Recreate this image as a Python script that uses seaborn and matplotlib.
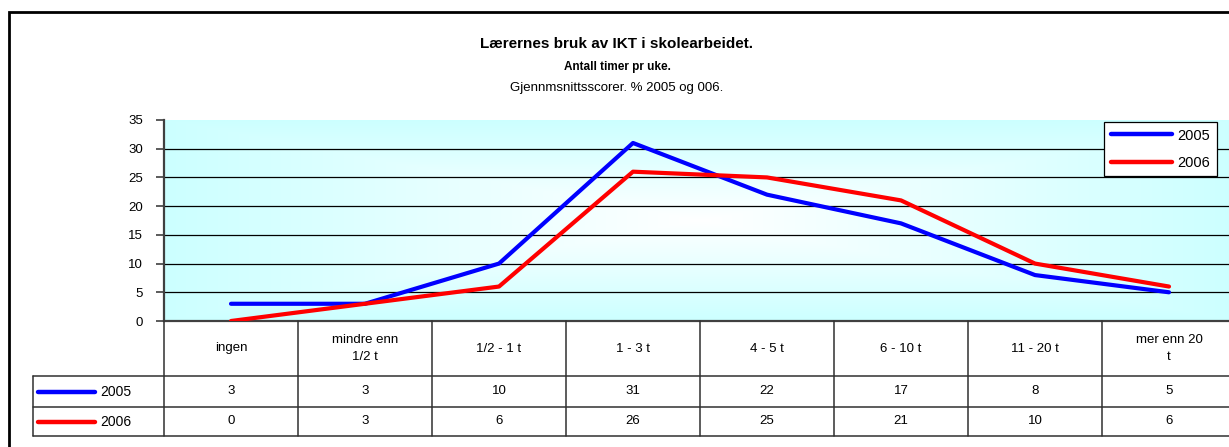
import numpy as np
import pandas as pd
import matplotlib
matplotlib.use("Agg")
import matplotlib.pyplot as plt
from matplotlib.patches import Rectangle
import seaborn as sns

# data
categories = ["ingen", "mindre enn\n1/2 t", "1/2 - 1 t", "1 - 3 t",
              "4 - 5 t", "6 - 10 t", "11 - 20 t", "mer enn 20\nt"]
years = ["2005", "2006"]
values_2005 = [3, 3, 10, 31, 22, 17, 8, 5]
values_2006 = [0, 3, 6, 26, 25, 21, 10, 6]
line_colors = ["#0000FF", "#FF0000"]
y_ticks = [0, 5, 10, 15, 20, 25, 30, 35]

title = "Lærernes bruk av IKT i skolearbeidet."
subtitle = "Antall timer pr uke."
subsubtitle = "Gjennmsnittsscorer. % 2005 og 006."

sns.set_style("white")
plt.rcParams["font.family"] = ["Liberation Sans", "DejaVu Sans"]
plt.rcParams["text.color"] = "black"
plt.rcParams["ytick.labelcolor"] = "black"

W, H = 1229, 447
fig = plt.figure(figsize=(W / 100, H / 100), dpi=100)


def px_box(x0, y0, x1, y1):
    # pixel box (top-left origin) -> figure fraction rect
    return [x0 / W, 1 - y1 / H, (x1 - x0) / W, (y1 - y0) / H]


ax = fig.add_axes(px_box(164, 120, 1236, 321))
ax_tab = fig.add_axes(px_box(33, 321, 1236, 436))

# outer chart border (runs off the right/bottom edge like the screenshot)
fig.patches.append(Rectangle((9 / W, -0.1), 1.1, 1 - 12 / H + 0.1,
                             transform=fig.transFigure, fill=False,
                             lw=2, ec="black", zorder=0))

# plot area gradient: white centre fading to light cyan
gx, gy = np.meshgrid(np.linspace(-1, 1, 400), np.linspace(-1, 1, 200))
t = np.maximum(np.abs(gx), np.abs(gy))[..., None]
cyan = np.array([0.8, 1.0, 1.0])
img = (1 - t) * np.ones(3) + t * cyan
n = len(categories)
ax.imshow(img, extent=(-0.5, n - 0.5, 0, 35), aspect="auto", zorder=0)

for yv in y_ticks[1:-1]:
    ax.axhline(yv, color="black", lw=0.9, zorder=1)

df = pd.DataFrame({
    "pos": list(range(n)) * 2,
    "value": values_2005 + values_2006,
    "year": [years[0]] * n + [years[1]] * n,
})
sns.lineplot(data=df, x="pos", y="value", hue="year",
             palette=dict(zip(years, line_colors)), lw=3,
             ax=ax, zorder=3, solid_capstyle="round")

ax.set_xlim(-0.5, n - 0.5)
ax.set_ylim(0, 35)
ax.set_yticks(y_ticks)
ax.set_xticks([])
ax.set_xlabel("")
ax.set_ylabel("")
ax.tick_params(axis="y", direction="out", length=6, width=1.2,
               color="#404040", labelcolor="black", pad=9, labelsize=9.5,
               left=True)
for side in ["top", "right"]:
    ax.spines[side].set_visible(False)
for side in ["left", "bottom"]:
    ax.spines[side].set_color("#404040")
    ax.spines[side].set_linewidth(1.6)

handles, labels = ax.get_legend_handles_labels()
leg = ax.legend(handles, labels, loc="upper right",
                bbox_to_anchor=((1217 - 164) / 1072, (321 - 122) / 201),
                borderaxespad=0, frameon=True, fancybox=False,
                edgecolor="black", handlelength=4.2, handletextpad=0.4,
                labelspacing=0.9, fontsize=10.5, borderpad=0.45,
                labelcolor="black")
leg.get_frame().set_linewidth(0.9)
leg.get_frame().set_alpha(1)
for line in leg.get_lines():
    line.set_linewidth(3.2)

# data table under the plot
def tx(px):
    return (px - 164) / 134 - 0.5

ax_tab.set_xlim(tx(33), n - 0.5)
ax_tab.set_ylim(115, 0)
ax_tab.axis("off")
grid_c = "#303030"
for yv in [55, 86, 115]:
    ax_tab.plot([tx(33), n - 0.5], [yv, yv], color=grid_c, lw=1.1,
                clip_on=False)
ax_tab.plot([tx(33), tx(33)], [55, 115], color=grid_c, lw=1.1, clip_on=False)
for k in range(n + 1):
    ax_tab.plot([k - 0.5, k - 0.5], [0, 115], color=grid_c, lw=1.1,
                clip_on=False)

for i, cat in enumerate(categories):
    ax_tab.text(i, 27.5, cat, ha="center", va="center", fontsize=9.5,
                linespacing=1.6, color="black")
    ax_tab.text(i, 70.5, str(values_2005[i]), ha="center", va="center",
                fontsize=9.5, color="black")
    ax_tab.text(i, 100.5, str(values_2006[i]), ha="center", va="center",
                fontsize=9.5, color="black")

for yv, yr, col in zip([70.5, 100.5], years, line_colors):
    ax_tab.plot([tx(38), tx(95)], [yv, yv], color=col, lw=3.2,
                solid_capstyle="round")
    ax_tab.text(tx(100), yv, yr, ha="left", va="center", fontsize=10,
                color="black")

fig.text(617 / W, 1 - 44 / H, title, ha="center", va="center",
         fontsize=11, fontweight="bold", color="black")
fig.text(617 / W, 1 - 67 / H, subtitle, ha="center", va="center",
         fontsize=8.5, fontweight="bold", color="black")
fig.text(617 / W, 1 - 88 / H, subsubtitle, ha="center", va="center",
         fontsize=9.5, color="black")

fig.savefig("out.png", dpi=100)
